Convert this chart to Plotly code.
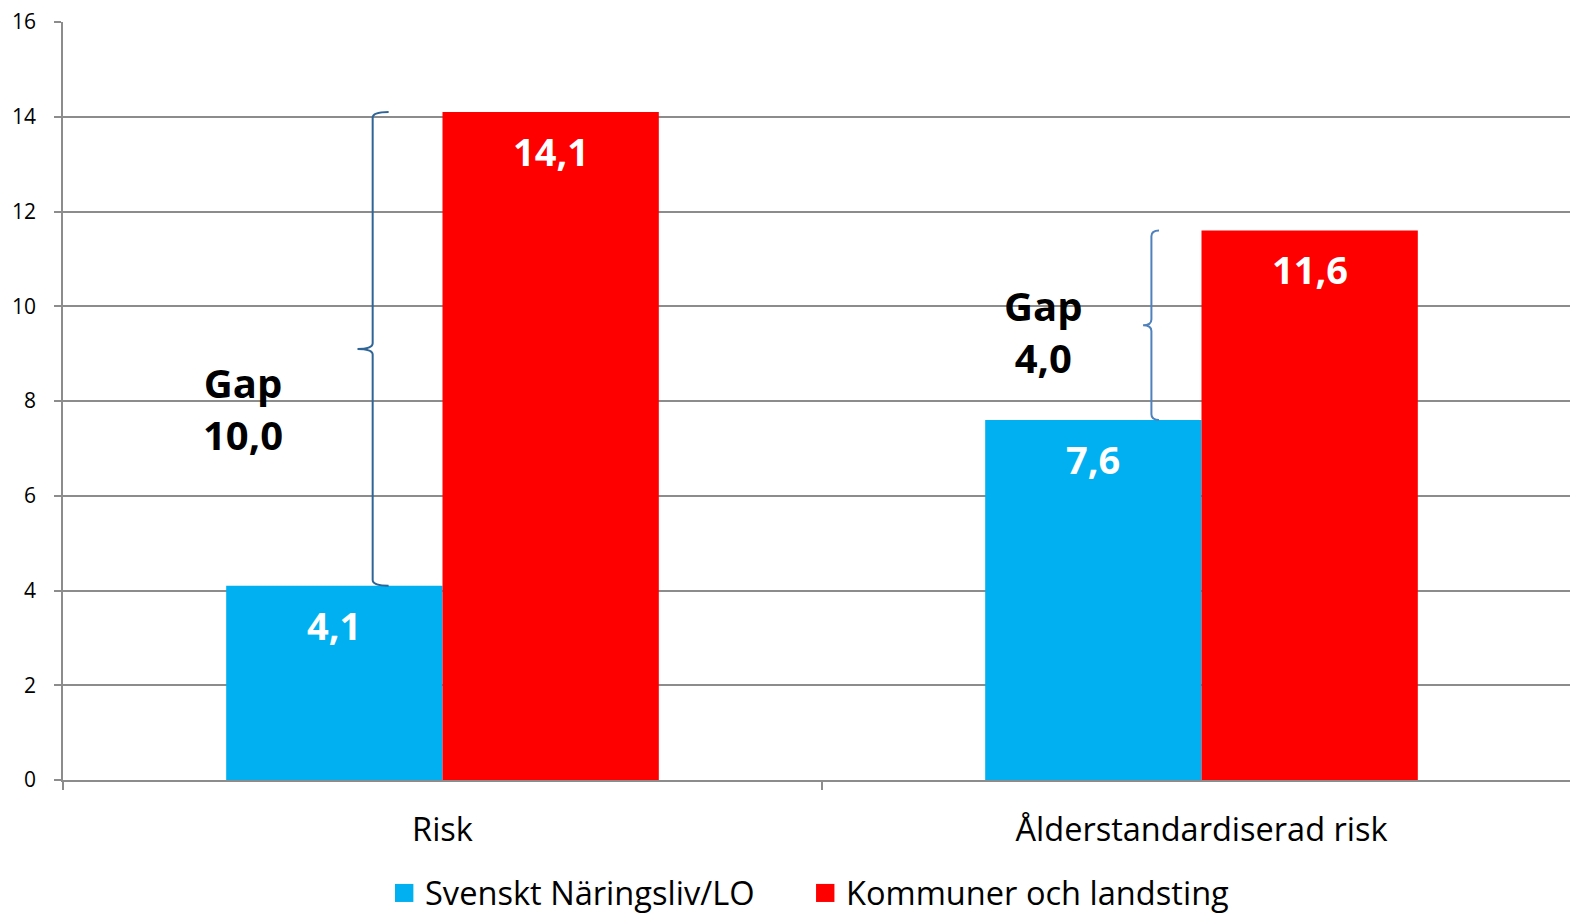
import plotly.graph_objects as go

categories = ["Risk", "Ålderstandardiserad risk"]
series_names = ["Svenskt Näringsliv/LO", "Kommuner och landsting"]
svenskt = [4.1, 7.6]
kommuner = [14.1, 11.6]
colors = ["#00B0F0", "#FF0000"]
y_ticks = [0, 2, 4, 6, 8, 10, 12, 14, 16]

FONT = "Open Sans, sans-serif"
bargap = 0.43
bar_w = (1 - bargap) / 2

fig = go.Figure()
for name, vals, col in zip(series_names, [svenskt, kommuner], colors):
    fig.add_trace(go.Bar(x=categories, y=vals, name=name, marker_color=col,
                         marker_line_width=0, hoverinfo="skip", showlegend=False))

fmt = lambda v: f"{v:.1f}".replace(".", ",")

# value labels inside bars
for i, cat in enumerate(categories):
    for k, vals in enumerate([svenskt, kommuner]):
        off = (k - 0.5) * bar_w
        fig.add_annotation(x=i + off, y=vals[i], xref="x", yref="y",
                           text=f"<b>{fmt(vals[i])}</b>", showarrow=False,
                           yshift=-39, font=dict(family=FONT, size=38, color="white"))

# braces and gap labels
brace_cfg = [
    dict(color="#2E6496", xb=-0.092, hook=0.021, tip=-0.020, lx=-0.263, ly=7.85),
    dict(color="#4F81BD", xb=-0.066, hook=0.010, tip=-0.011, lx=-0.209, ly=9.46),
]
for i, cfg in enumerate(brace_cfg):
    lo, hi = svenskt[i], kommuner[i]
    mid = (lo + hi) / 2
    xb = i + cfg["xb"]
    r = 0.12
    path = (f"M {xb + cfg['hook']},{hi} Q {xb},{hi} {xb},{hi - r} L {xb},{mid + r} "
            f"Q {xb},{mid} {xb + cfg['tip']},{mid} Q {xb},{mid} {xb},{mid - r} "
            f"L {xb},{lo + r} Q {xb},{lo} {xb + cfg['hook']},{lo}")
    fig.add_shape(type="path", path=path, xref="x", yref="y",
                  line=dict(color=cfg["color"], width=2))
    gap = hi - lo
    fig.add_annotation(x=i + cfg["lx"], y=cfg["ly"], xref="x", yref="y",
                       text=f"<b>Gap<br>{fmt(gap)}</b>", showarrow=False,
                       font=dict(family=FONT, size=40, color="black"))

# legend drawn below the plot (swatch + label)
legend_pos = [0.2203, 0.4997]
sw = 0.0122
ly = -0.149
for name, col, lx in zip(series_names, colors, legend_pos):
    fig.add_shape(type="rect", xref="paper", yref="paper", x0=lx, x1=lx + sw,
                  y0=ly - 0.0119, y1=ly + 0.0119, fillcolor=col, line_width=0)
    fig.add_annotation(xref="paper", yref="paper", x=lx + sw + 0.0066, y=ly,
                       xanchor="left", yanchor="middle", text=name, showarrow=False,
                       font=dict(family=FONT, size=32.6, color="black"))

fig.update_layout(
    width=1570, height=915,
    margin=dict(l=63, r=0, t=22, b=135),
    paper_bgcolor="white", plot_bgcolor="white",
    barmode="group", bargap=bargap, bargroupgap=0,
    font=dict(family=FONT, color="black"),
    showlegend=False,
    xaxis=dict(range=[-0.5, -0.5 + 1507 / 759], showline=True, linecolor="#8C8C8C",
               linewidth=1.5, ticks="outside", tickson="boundaries", ticklen=8,
               tickcolor="#8C8C8C", tickwidth=1.5, tickfont=dict(size=32.5, family=FONT),
               showgrid=False, ticklabelstandoff=20),
    yaxis=dict(range=[0, 16], tickvals=y_ticks, showline=True, linecolor="#8C8C8C",
               linewidth=1.5, ticks="outside", ticklen=7, tickcolor="#8C8C8C",
               tickwidth=1.5, gridcolor="#8C8C8C", gridwidth=1.5,
               tickfont=dict(size=21, family=FONT), zeroline=False,
               ticklabelstandoff=14),
)
fig.write_html("out.html", config={"displayModeBar": False},
               post_script="document.body.style.margin='0';document.body.style.overflow='hidden';")
